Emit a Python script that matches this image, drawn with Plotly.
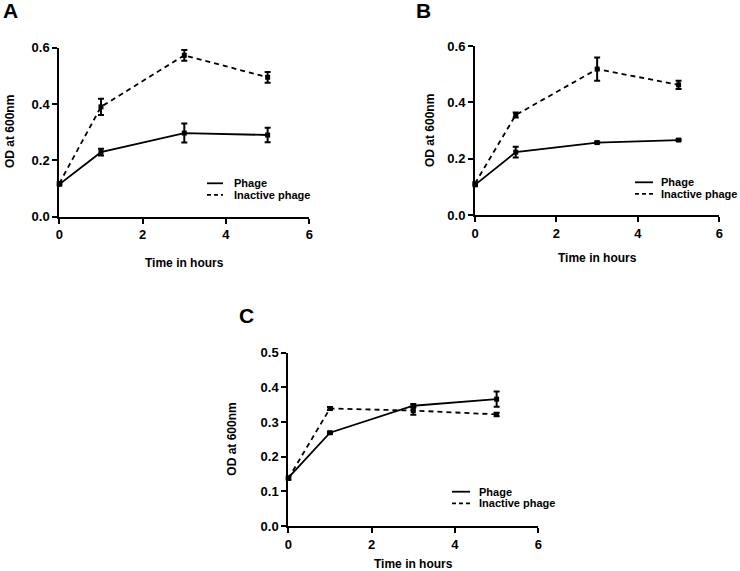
import plotly.graph_objects as go

W, H = 740, 571

time_h = [0, 1, 3, 5]

# Panel A
a_phage = [0.115, 0.229, 0.297, 0.290]
a_phage_err = [0.004, 0.012, 0.034, 0.026]
a_inactive = [0.118, 0.390, 0.573, 0.495]
a_inactive_err = [0.004, 0.029, 0.019, 0.019]

# Panel B
b_phage = [0.107, 0.223, 0.257, 0.266]
b_phage_err = [0.004, 0.019, 0.003, 0.003]
b_inactive = [0.112, 0.355, 0.518, 0.462]
b_inactive_err = [0.004, 0.009, 0.041, 0.015]

# Panel C
c_phage = [0.139, 0.269, 0.347, 0.366]
c_phage_err = [0.004, 0.003, 0.005, 0.022]
c_inactive = [0.137, 0.339, 0.333, 0.322]
c_inactive_err = [0.004, 0.004, 0.012, 0.005]

x_ticks = [0, 2, 4, 6]
ab_y_ticks = [0.0, 0.2, 0.4, 0.6]
c_y_ticks = [0.0, 0.1, 0.2, 0.3, 0.4, 0.5]

series_names = ["Phage", "Inactive phage"]
panel_letters = ["A", "B", "C"]
x_title = "Time in hours"
y_title = "OD at 600nm"

FONT = "Liberation Sans, Arial, sans-serif"

def px_x(p):
    return p / W

def px_y(p):
    return 1 - p / H

panels = [
    dict(data=(a_phage, a_phage_err, a_inactive, a_inactive_err),
         xd=(59.3, 309.3), yd=(216.7, 47.7), yr=0.6, yt=ab_y_ticks,
         letter=(10, 10), ytitle=(10, 132), xtitle=(184, 263),
         leg_line=(207, 223), leg_text=233, leg_y=(183.3, 194.9)),
    dict(data=(b_phage, b_phage_err, b_inactive, b_inactive_err),
         xd=(475, 719.3), yd=(215, 46), yr=0.6, yt=ab_y_ticks,
         letter=(423, 10.5), ytitle=(430, 130), xtitle=(597, 258),
         leg_line=(635, 653), leg_text=660, leg_y=(182.3, 193.9)),
    dict(data=(c_phage, c_phage_err, c_inactive, c_inactive_err),
         xd=(288.3, 538.3), yd=(526, 352.7), yr=0.5, yt=c_y_ticks,
         letter=(247, 315), ytitle=(231.7, 439), xtitle=(413, 564),
         leg_line=(452, 470), leg_text=478, leg_y=(491.7, 503.3)),
]

fig = go.Figure()
annotations = []
shapes = []
layout = {}

for i, p in enumerate(panels):
    n = "" if i == 0 else str(i + 1)
    xa, ya = "x" + n, "y" + n
    ph, phe, ina, inae = p["data"]
    for vals, errs, dash, name in [(ph, phe, "solid", series_names[0]),
                                   (ina, inae, "5px,4px", series_names[1])]:
        fig.add_trace(go.Scatter(
            x=time_h, y=vals, mode="lines+markers", name=name,
            xaxis=xa, yaxis=ya, showlegend=False, cliponaxis=False,
            line=dict(color="black", width=1.8, dash=dash),
            marker=dict(symbol="square", size=5, color="black"),
            error_y=dict(type="data", array=errs, visible=True,
                         color="black", thickness=2, width=3),
        ))
    axis_common = dict(
        showline=True, linecolor="black", linewidth=2,
        ticks="outside", ticklen=5, tickwidth=2, tickcolor="black",
        showgrid=False, zeroline=False, automargin=False,
        tickfont=dict(family=FONT, size=13, color="black", weight="bold"),
    )
    layout["xaxis" + n] = dict(
        domain=[px_x(p["xd"][0]), px_x(p["xd"][1])], range=[0, 6],
        tickvals=x_ticks, ticktext=[str(t) for t in x_ticks],
        anchor=ya, **axis_common)
    layout["yaxis" + n] = dict(
        domain=[px_y(p["yd"][0]), px_y(p["yd"][1])], range=[0, p["yr"]],
        tickvals=p["yt"], ticktext=[f"{t:.1f}" for t in p["yt"]],
        anchor=xa, **axis_common)

    annotations.append(dict(
        text=panel_letters[i], xref="paper", yref="paper",
        x=px_x(p["letter"][0]), y=px_y(p["letter"][1]),
        xanchor="center", yanchor="middle", showarrow=False,
        font=dict(family=FONT, size=21, color="black", weight="bold")))
    annotations.append(dict(
        text=y_title, xref="paper", yref="paper", textangle=-90,
        x=px_x(p["ytitle"][0]), y=px_y(p["ytitle"][1]),
        xanchor="center", yanchor="middle", showarrow=False,
        font=dict(family=FONT, size=12, color="black", weight="bold")))
    annotations.append(dict(
        text=x_title, xref="paper", yref="paper",
        x=px_x(p["xtitle"][0]), y=px_y(p["xtitle"][1]),
        xanchor="center", yanchor="middle", showarrow=False,
        font=dict(family=FONT, size=12, color="black", weight="bold")))
    for j, (name, dash) in enumerate(zip(series_names, ["solid", "4px,3px"])):
        yy = p["leg_y"][j]
        annotations.append(dict(
            text=name, xref="paper", yref="paper",
            x=px_x(p["leg_text"]), y=px_y(yy), borderpad=0,
            xanchor="left", yanchor="middle", showarrow=False,
            font=dict(family=FONT, size=11, color="black", weight="bold")))
        shapes.append(dict(
            type="line", xref="paper", yref="paper",
            x0=px_x(p["leg_line"][0]), x1=px_x(p["leg_line"][1]),
            y0=px_y(yy), y1=px_y(yy),
            line=dict(color="black", width=1.8, dash=dash)))

fig.update_layout(
    width=W, height=H,
    margin=dict(l=0, r=0, t=0, b=0),
    paper_bgcolor="white", plot_bgcolor="white",
    annotations=annotations, shapes=shapes,
    **layout,
)

fig.write_html(
    "out.html",
    config={"displayModeBar": False},
    post_script="document.body.style.margin='0';document.body.style.overflow='hidden';",
)
